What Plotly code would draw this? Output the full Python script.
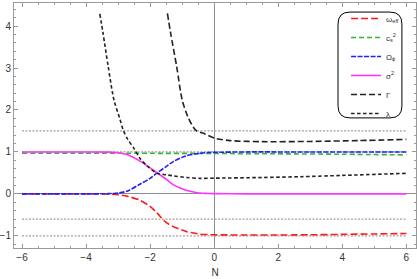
import plotly.graph_objects as go

# ---- data ----
N_main = [-6, -4, -3.3, -3.0, -2.7, -2.32, -2.0, -1.78, -1.5, -1.28, -1.0, -0.86,
          -0.6, -0.45, -0.2, 0, 1, 2, 3, 4, 5, 6]
omega_eff = [0, 0, -0.005, -0.02, -0.06, -0.15, -0.30, -0.46, -0.68, -0.78, -0.86, -0.90,
             -0.94, -0.96, -0.97, -0.975, -0.98, -0.98, -0.975, -0.965, -0.955, -0.945]
sigma2 = [1.0, 1.0, 0.995, 0.98, 0.93, 0.78, 0.62, 0.50, 0.35, 0.22, 0.12, 0.08,
          0.04, 0.02, 0.01, 0.005, 0, 0, 0, 0, 0, 0]
omega_phi = [0, 0, 0.005, 0.02, 0.07, 0.23, 0.37, 0.50, 0.65, 0.77, 0.87, 0.91,
             0.95, 0.97, 0.985, 0.99, 1.0, 1.0, 1.0, 1.0, 1.0, 1.0]

N_cs = [-6, -4, -2, 0, 2, 4, 6]
cs2 = [0.97, 0.97, 0.967, 0.963, 0.955, 0.945, 0.93]

N_gamma = [-1.46, -1.36, -1.17, -1.0, -0.83, -0.66, -0.55, -0.29, 0, 0.5, 1.5, 3, 4.5, 6]
gamma = [4.3, 3.83, 3.03, 2.24, 1.85, 1.6, 1.5, 1.43, 1.33, 1.27, 1.245, 1.25, 1.27, 1.30]

N_lambda = [-3.57, -3.47, -3.31, -3.13, -2.95, -2.84, -2.7, -2.5, -2.32, -2.1, -1.78,
            -1.5, -1.28, -0.86, -0.45, 0, 1.5, 2.7, 4, 6]
lam = [4.29, 3.83, 3.04, 2.24, 1.8, 1.52, 1.3, 1.08, 0.85, 0.67, 0.49,
       0.455, 0.43, 0.39, 0.37, 0.375, 0.39, 0.41, 0.44, 0.49]

ref_levels = [1.5, 1.0, -0.6, -1.0]
ref_span = [-6, 6]

fig = go.Figure()

for lv in ref_levels:
    fig.add_trace(go.Scatter(x=ref_span, y=[lv, lv], mode="lines", showlegend=False,
                             hoverinfo="skip",
                             line=dict(color="#a0a0a0", width=1.3, dash="2px,1.5px")))

series = [
    ("ω<sub>eff</sub>", N_main, omega_eff, "#ff1a1a", "7px,3px"),
    ("c<sub>s</sub><sup>2</sup>", N_cs, cs2, "#33b533", "5px,3px"),
    ("Ω<sub>ϕ</sub>", N_main, omega_phi, "#2020ff", "5px,1.5px"),
    ("σ<sup>2</sup>", N_main, sigma2, "#ff33ff", "solid"),
    ("Γ", N_gamma, gamma, "#222222", "6px,3px"),
    ("λ", N_lambda, lam, "#222222", "3.5px,2.5px"),
]
for name, xs, ys, col, dash in series:
    fig.add_trace(go.Scatter(x=xs, y=ys, mode="lines", name=name,
                             line=dict(color=col, width=1.6, dash=dash,
                                       shape="spline", smoothing=0.8)))

axis_common = dict(
    showgrid=False, ticks="inside", ticklen=4, tickcolor="#999999", tickwidth=1,
    showline=True, linecolor="#999999", linewidth=1, mirror="allticks",
    zeroline=True, zerolinecolor="#8c8c8c", zerolinewidth=1, automargin=False,
    tickfont=dict(family="Liberation Sans, Arial, sans-serif", size=10, color="#333333"),
)

# rounded frame behind the legend (paper coordinates)
x0, x1, y0, y1 = 0.806, 0.965, 0.531, 0.963
rx, ry = 12 / 402, 12 / 245
legend_frame = (
    f"M {x0 + rx},{y1} L {x1 - rx},{y1} Q {x1},{y1} {x1},{y1 - ry} "
    f"L {x1},{y0 + ry} Q {x1},{y0} {x1 - rx},{y0} "
    f"L {x0 + rx},{y0} Q {x0},{y0} {x0},{y0 + ry} "
    f"L {x0},{y1 - ry} Q {x0},{y1} {x0 + rx},{y1} Z"
)

fig.update_layout(
    width=417, height=279,
    margin=dict(l=14, r=1, t=3, b=31),
    paper_bgcolor="white", plot_bgcolor="white",
    font=dict(family="Liberation Sans, Arial, sans-serif", size=10, color="#333333"),
    xaxis=dict(range=[-6.25, 6.3], tick0=0, dtick=2,
               minor=dict(dtick=0.5, ticks="inside", ticklen=2, tickcolor="#999999"),
               title=dict(text="N", standoff=6, font=dict(size=10)),
               **axis_common),
    yaxis=dict(range=[-1.29, 4.55], tick0=0, dtick=1,
               minor=dict(dtick=0.2, ticks="inside", ticklen=2, tickcolor="#999999"),
               **axis_common),
    legend=dict(x=0.826, y=0.996, xanchor="left", yanchor="top",
                bgcolor="rgba(0,0,0,0)", borderwidth=0,
                font=dict(size=8, color="#333333"), itemwidth=30),
    shapes=[dict(type="path", xref="paper", yref="paper", path=legend_frame,
                 line=dict(color="black", width=1), fillcolor="white", layer="above")],
)

fig.write_html("out.html", post_script="document.body.style.margin='0px';",
               config={"displayModeBar": False})
